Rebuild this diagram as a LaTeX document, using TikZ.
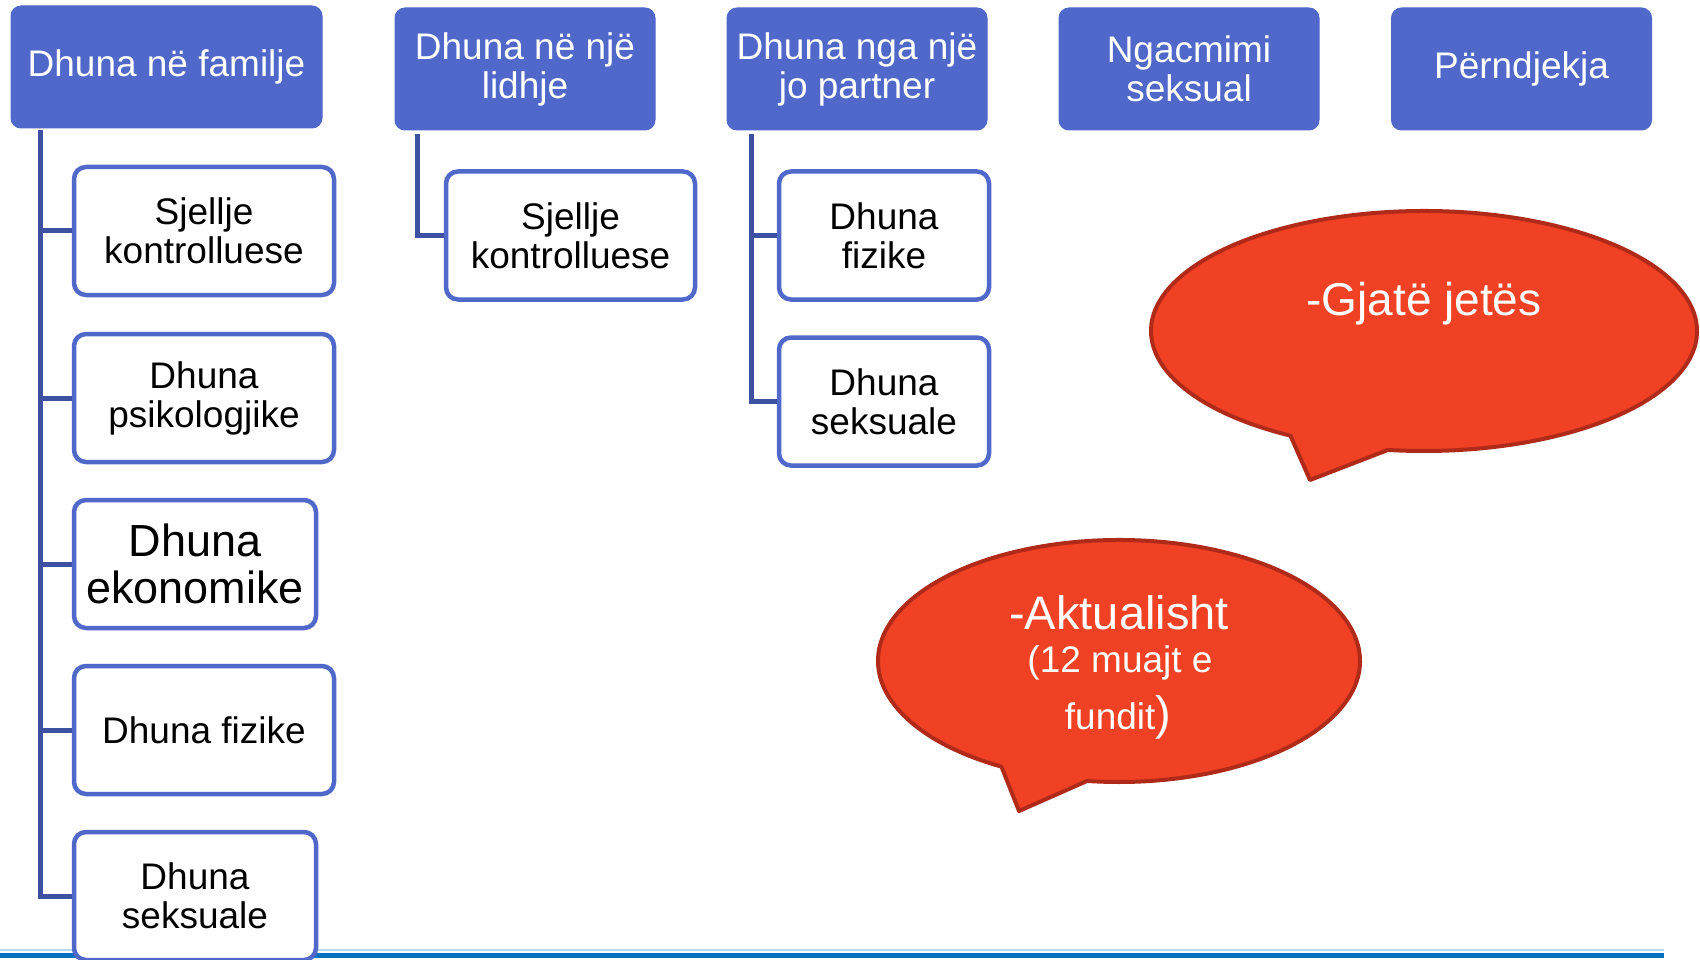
\documentclass[tikz,border=0pt]{standalone}
\usepackage{fontspec}
\setmainfont{Liberation Sans}
\definecolor{hdr}{HTML}{4F68C9}
\definecolor{tree}{HTML}{3D51A3}
\definecolor{bub}{HTML}{F04124}
\definecolor{bubedge}{HTML}{B02A1A}
\definecolor{rulecol}{HTML}{0070C0}
\definecolor{rulelight}{HTML}{BDD7EE}
\begin{document}
\begin{tikzpicture}[x=1pt,y=-1pt,
  hdrbox/.style={rectangle, rounded corners=10pt, fill=hdr, draw=hdr, line width=1pt, text=white, align=center, font=\fontsize{37}{39}\selectfont, inner sep=0pt, minimum height=122pt},
  kidbox/.style={rectangle, rounded corners=12pt, fill=white, draw=hdr, line width=4.5pt, align=center, font=\fontsize{37}{39}\selectfont, inner sep=0pt, minimum height=128pt},
  treeline/.style={draw=tree, line width=5pt},
  bubble/.style={fill=bub, draw=bubedge, line width=4pt, line join=round},
  bubtext/.style={text=white, align=center, inner sep=0pt}]
\useasboundingbox (0,0) rectangle (1700,960);

% bottom rule
\draw[draw=rulelight, line width=2pt] (0,950) -- (1664,950);
\draw[draw=rulecol, line width=5pt] (0,955) -- (1664,955);

% headers
\node[hdrbox, minimum width=311pt] (h1) at (166.5,67) {Dhuna në familje};
\node[hdrbox, minimum width=260pt] (h2) at (525,69) {Dhuna në një\\lidhje};
\node[hdrbox, minimum width=260pt] (h3) at (857,69) {Dhuna nga një\\jo partner};
\node[hdrbox, minimum width=260pt] (h4) at (1189,69) {Ngacmimi\\seksual};
\node[hdrbox, minimum width=260pt] (h5) at (1521.5,69) {Përndjekja};

% column 1
\node[kidbox, minimum width=260pt] (c1) at (204,231) {Sjellje\\kontrolluese};
\node[kidbox, minimum width=260pt] (c2) at (204,398) {Dhuna\\psikologjike};
\node[kidbox, minimum width=242pt, font=\fontsize{45}{47}\selectfont] (c3) at (195,564) {Dhuna\\ekonomike};
\node[kidbox, minimum width=260pt] (c4) at (204,730) {Dhuna fizike};
\node[kidbox, minimum width=242pt] (c5) at (195,896) {Dhuna\\seksuale};

\coordinate (t1) at (40,130);
\draw[treeline] (t1) |- (c5.west);
\foreach \k in {c1,c2,c3,c4} {\draw[treeline] (t1 |- \k.west) -- (\k.west);}

% column 2
\node[kidbox, minimum width=249pt] (k21) at (570.5,235.5) {Sjellje\\kontrolluese};
\coordinate (t2) at (417,134);
\draw[treeline] (t2) |- (k21.west);

% column 3
\node[kidbox, minimum width=210pt] (k31) at (884,235.5) {Dhuna\\fizike};
\node[kidbox, minimum width=210pt] (k32) at (884,401.5) {Dhuna\\seksuale};
\coordinate (t3) at (751,134);
\draw[treeline] (t3) |- (k32.west);
\draw[treeline] (t3 |- k31.west) -- (k31.west);

% bubble 1
\coordinate (b1c) at (1424,331);
\coordinate (b1tip) at (1310,480);
\draw[bubble] (b1c) ++(119.3:273 and 120) arc[start angle=119.3, end angle=457.6, x radius=273, y radius=120] -- (b1tip) -- cycle;
\node[bubtext, font=\fontsize{46}{50}\selectfont] (b1t) at (1424,304) {-Gjatë jetës};

% bubble 2
\coordinate (b2c) at (1119,661);
\coordinate (b2tip) at (1019,811);
\draw[bubble] (b2c) ++(119.2:241 and 121) arc[start angle=119.2, end angle=457.6, x radius=241, y radius=121] -- (b2tip) -- cycle;
\node[bubtext, font=\fontsize{47}{50}\selectfont] (b2a) at (1119,613) {-Aktualisht};
\node[bubtext, font=\fontsize{37}{40}\selectfont] (b2b) at (1120,663) {(12 muajt e};
\node[bubtext, font=\fontsize{37}{40}\selectfont] (b2c2) at (1118,717) {fundit{\fontsize{47}{50}\selectfont)}};
\end{tikzpicture}
\end{document}
